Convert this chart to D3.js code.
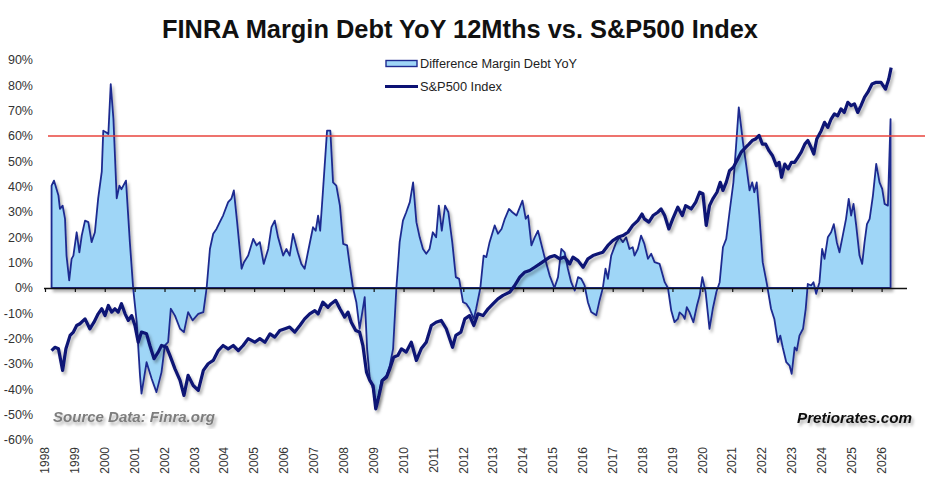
<!DOCTYPE html>
<html lang="en">
<head>
  <meta charset="UTF-8">
  <title>FINRA Margin Debt YoY vs. S&amp;P500</title>
  <script src="https://d3js.org/d3.v7.min.js"></script>
  <style>
    body { margin: 0; background: #fff; font-family: Arial, "Liberation Sans", sans-serif; }
  </style>
</head>
<body>
  <div id="chart"></div>

  <script>
    // Margin debt YoY change (%), decimal year positions
    const debtDates = [
      1998.22, 1998.30, 1998.45, 1998.50, 1998.59, 1998.67, 1998.72, 1998.81, 1998.89, 1998.95,
      1999.06, 1999.15, 1999.23, 1999.34, 1999.45, 1999.56, 1999.67, 1999.78, 1999.90, 1999.95,
      2000.04, 2000.12, 2000.20, 2000.29, 2000.40, 2000.49, 2000.56, 2000.71, 2000.84, 2000.95,
      2001.07, 2001.18, 2001.23, 2001.40, 2001.57, 2001.73, 2001.90, 2002.01, 2002.12, 2002.21,
      2002.35, 2002.52, 2002.65, 2002.79, 2002.94, 2003.13, 2003.30, 2003.41, 2003.52, 2003.63,
      2003.74, 2003.85, 2003.96, 2004.13, 2004.24, 2004.32, 2004.43, 2004.58, 2004.66, 2004.80,
      2004.97, 2005.08, 2005.19, 2005.32, 2005.47, 2005.58, 2005.69, 2005.80, 2005.97, 2006.08,
      2006.19, 2006.30, 2006.46, 2006.58, 2006.69, 2006.80, 2006.97, 2007.06, 2007.14, 2007.21,
      2007.30, 2007.44, 2007.55, 2007.64, 2007.75, 2007.87, 2007.98, 2008.11, 2008.20, 2008.31,
      2008.42, 2008.53, 2008.70, 2008.78, 2008.87, 2008.98, 2009.07, 2009.15, 2009.26, 2009.43,
      2009.54, 2009.65, 2009.76, 2009.87, 2009.98, 2010.09, 2010.21, 2010.32, 2010.43, 2010.54,
      2010.65, 2010.76, 2010.87, 2010.98, 2011.09, 2011.18, 2011.28, 2011.39, 2011.50, 2011.63,
      2011.75, 2011.86, 2011.99, 2012.10, 2012.21, 2012.35, 2012.43, 2012.57, 2012.68, 2012.77,
      2012.88, 2013.05, 2013.16, 2013.28, 2013.39, 2013.53, 2013.64, 2013.78, 2013.87, 2013.98,
      2014.09, 2014.17, 2014.28, 2014.39, 2014.50, 2014.61, 2014.72, 2014.89, 2015.05, 2015.17,
      2015.28, 2015.39, 2015.50, 2015.61, 2015.73, 2015.84, 2015.95, 2016.06, 2016.17, 2016.28,
      2016.45, 2016.56, 2016.67, 2016.76, 2016.84, 2016.95, 2017.12, 2017.23, 2017.34, 2017.45,
      2017.56, 2017.67, 2017.73, 2017.84, 2017.95, 2018.06, 2018.18, 2018.29, 2018.40, 2018.57,
      2018.74, 2018.85, 2018.96, 2019.07, 2019.18, 2019.24, 2019.35, 2019.41, 2019.48, 2019.57,
      2019.70, 2019.82, 2019.91, 2020.00, 2020.11, 2020.24, 2020.35, 2020.47, 2020.58, 2020.69,
      2020.80, 2020.91, 2021.04, 2021.13, 2021.22, 2021.36, 2021.47, 2021.58, 2021.67, 2021.74,
      2021.82, 2021.91, 2022.02, 2022.16, 2022.30, 2022.41, 2022.53, 2022.61, 2022.69, 2022.81,
      2022.92, 2022.99, 2023.09, 2023.16, 2023.25, 2023.37, 2023.46, 2023.53, 2023.64, 2023.72,
      2023.81, 2023.92, 2024.01, 2024.09, 2024.20, 2024.31, 2024.40, 2024.50, 2024.59, 2024.70,
      2024.81, 2024.90, 2024.98, 2025.06, 2025.15, 2025.26, 2025.35, 2025.43, 2025.51, 2025.60,
      2025.71, 2025.82, 2025.93, 2026.02, 2026.10, 2026.21, 2026.30
    ];
    const debtYoY = [
      40.4, 42.4, 36.5, 31.2, 32.5, 27.3, 12.8, 3.0, 11.5, 12.8,
      22.0, 14.1, 20.7, 26.6, 26.0, 18.1, 22.0, 35.4, 45.9, 62.1,
      61.5, 60.8, 80.5, 66.7, 35.4, 40.4, 39.0, 42.4, 18.1, 0,
      -13.5, -34.5, -41.7, -29.3, -35.8, -41.1, -33.2, -22.7, -21.4, -8.2,
      -10.9, -16.1, -17.4, -9.5, -12.8, -10.2, -9.5, 0, 15.4, 21.4,
      23.3, 26.0, 28.6, 33.9, 35.3, 38.5, 26.0, 7.6, 10.2, 12.8,
      19.4, 16.8, 18.1, 9.5, 15.4, 24.0, 26.6, 20.0, 12.8, 15.4,
      12.8, 21.4, 14.1, 9.5, 7.6, 14.1, 24.0, 22.6, 28.6, 22.6,
      37.8, 62.1, 62.1, 41.7, 40.4, 32.5, 17.4, 16.8, 8.9, 0,
      -5.6, -16.1, -3.6, -24.0, -35.8, -39.8, -46.4, -43.7, -36.5, -34.5,
      -30.6, -24.0, 0, 18.1, 26.6, 29.9, 33.9, 41.7, 26.0, 20.0,
      15.4, 13.5, 15.4, 22.0, 20.0, 32.5, 22.6, 32.5, 29.9, 18.1,
      4.3, 3.6, -5.6, -6.2, -8.2, -12.2, -8.2, 0, 12.8, 12.2,
      18.1, 24.7, 21.4, 23.3, 27.3, 31.2, 29.9, 28.6, 31.2, 34.5,
      27.3, 28.6, 16.8, 20.0, 22.6, 17.4, 12.2, 4.9, 0, 4.3,
      15.4, 14.1, 7.6, 2.3, -1.0, 4.3, 3.6, 1.0, -5.6, -9.5,
      -10.8, -4.9, 0, 7.6, 3.6, 12.8, 18.1, 20.0, 18.1, 20.0,
      15.4, 16.1, 12.8, 15.4, 20.7, 17.4, 11.5, 13.5, 10.2, 9.5,
      2.3, 0, -8.9, -13.5, -12.2, -9.6, -10.8, -12.2, -7.6, -9.5,
      -13.5, -6.9, -3.0, 4.3, -1.6, -16.1, -8.2, -1.6, 2.3, 16.1,
      19.4, 29.9, 41.7, 56.2, 71.3, 57.5, 48.3, 38.5, 41.7, 37.8,
      41.7, 28.6, 10.2, 1.6, -8.2, -12.2, -21.4, -18.8, -23.4, -29.3,
      -30.6, -33.9, -23.4, -24.7, -18.8, -16.1, -8.2, 1.6, 1.0, 2.3,
      -2.3, 2.3, 15.4, 11.5, 20.0, 22.0, 25.2, 18.1, 14.1, 20.7,
      27.3, 35.2, 28.6, 33.2, 24.6, 12.8, 9.5, 18.1, 25.2, 27.3,
      36.5, 49.0, 41.7, 39.1, 33.2, 32.5, 66.7
    ];

    // S&P500 index, plotted on a hidden secondary axis (values in left-axis units)
    const spxDates = [
      1998.22, 1998.33, 1998.45, 1998.59, 1998.70, 1998.84, 1998.95, 1999.06, 1999.17, 1999.34,
      1999.50, 1999.64, 1999.78, 1999.90, 2000.01, 2000.12, 2000.23, 2000.34, 2000.45, 2000.56,
      2000.68, 2000.79, 2000.90, 2001.01, 2001.12, 2001.23, 2001.40, 2001.51, 2001.65, 2001.79,
      2001.90, 2002.07, 2002.18, 2002.35, 2002.52, 2002.65, 2002.79, 2002.96, 2003.13, 2003.30,
      2003.46, 2003.63, 2003.80, 2003.96, 2004.13, 2004.30, 2004.47, 2004.63, 2004.80, 2005.02,
      2005.19, 2005.36, 2005.53, 2005.69, 2005.86, 2006.03, 2006.19, 2006.36, 2006.53, 2006.69,
      2006.86, 2007.03, 2007.14, 2007.30, 2007.47, 2007.58, 2007.73, 2007.87, 2008.03, 2008.14,
      2008.25, 2008.40, 2008.53, 2008.64, 2008.76, 2008.87, 2008.98, 2009.07, 2009.18, 2009.29,
      2009.43, 2009.54, 2009.67, 2009.81, 2009.93, 2010.09, 2010.26, 2010.43, 2010.59, 2010.76,
      2010.93, 2011.09, 2011.26, 2011.43, 2011.64, 2011.75, 2011.92, 2012.05, 2012.21, 2012.35,
      2012.49, 2012.66, 2012.83, 2013.00, 2013.16, 2013.33, 2013.56, 2013.72, 2013.89, 2014.05,
      2014.22, 2014.39, 2014.56, 2014.72, 2014.89, 2015.06, 2015.23, 2015.39, 2015.56, 2015.67,
      2015.84, 2016.01, 2016.17, 2016.34, 2016.51, 2016.67, 2016.84, 2017.00, 2017.17, 2017.34,
      2017.51, 2017.67, 2017.84, 2017.98, 2018.06, 2018.21, 2018.35, 2018.51, 2018.62, 2018.74,
      2018.88, 2019.01, 2019.18, 2019.33, 2019.44, 2019.63, 2019.78, 2019.91, 2020.02, 2020.13,
      2020.24, 2020.35, 2020.49, 2020.60, 2020.69, 2020.80, 2020.91, 2021.04, 2021.16, 2021.30,
      2021.45, 2021.56, 2021.67, 2021.78, 2021.90, 2022.01, 2022.12, 2022.23, 2022.35, 2022.48,
      2022.57, 2022.65, 2022.76, 2022.87, 2022.98, 2023.09, 2023.20, 2023.31, 2023.43, 2023.53,
      2023.64, 2023.73, 2023.83, 2023.98, 2024.09, 2024.20, 2024.31, 2024.42, 2024.53, 2024.64,
      2024.75, 2024.87, 2024.98, 2025.09, 2025.20, 2025.31, 2025.43, 2025.54, 2025.68, 2025.82,
      2025.98, 2026.13, 2026.24, 2026.32
    ];
    const spx = [
      -24.7, -23.4, -24.0, -32.5, -24.0, -18.7, -17.4, -14.8, -14.1, -12.2,
      -16.1, -13.5, -10.2, -8.2, -10.9, -6.9, -9.5, -8.2, -9.5, -6.2,
      -10.2, -12.8, -10.9, -14.8, -21.4, -17.4, -18.1, -22.7, -27.9, -25.3,
      -22.7, -23.4, -26.6, -31.9, -36.5, -42.4, -34.5, -38.5, -40.4, -32.5,
      -29.9, -28.6, -24.7, -22.7, -24.0, -22.7, -24.7, -22.7, -20.0, -21.4,
      -20.0, -21.4, -18.1, -19.4, -16.8, -16.1, -15.4, -17.4, -14.8, -12.2,
      -10.2, -8.9, -10.2, -5.6, -7.6, -6.2, -4.9, -8.2, -11.5, -9.5,
      -13.5, -16.8, -17.4, -22.7, -33.2, -36.5, -38.5, -47.7, -42.4, -36.5,
      -35.2, -31.9, -27.3, -26.6, -24.0, -25.3, -21.4, -28.6, -24.0, -21.4,
      -14.8, -13.5, -12.8, -16.1, -23.4, -18.7, -17.4, -12.2, -10.9, -14.8,
      -10.2, -10.9, -8.2, -6.2, -4.3, -2.9, -1.6, 1.0, 4.3, 6.2,
      6.9, 8.2, 9.5, 10.8, 12.2, 12.8, 11.5, 12.2, 9.5, 12.2,
      10.8, 8.2, 11.5, 12.8, 13.5, 14.1, 16.8, 18.7, 20.0, 20.7,
      22.0, 24.7, 26.6, 29.2, 27.3, 26.0, 28.6, 29.9, 31.2, 28.6,
      23.3, 27.3, 31.9, 28.6, 32.5, 31.2, 33.9, 37.8, 37.2, 24.7,
      32.5, 35.2, 37.8, 41.7, 38.5, 41.7, 46.3, 47.7, 50.3, 53.6,
      55.5, 56.8, 58.2, 58.8, 60.2, 56.8, 56.8, 54.2, 52.2, 48.3,
      49.6, 43.7, 48.9, 47.0, 49.6, 49.6, 51.6, 53.6, 56.8, 58.2,
      55.5, 52.9, 58.8, 62.1, 65.4, 63.4, 66.7, 68.7, 68.0, 70.7,
      69.3, 73.3, 72.0, 72.7, 69.3, 72.0, 75.3, 77.3, 80.5, 81.2,
      81.2, 78.5, 82.5, 87.0
    ];

    const yTicks = [90, 80, 70, 60, 50, 40, 30, 20, 10, 0, -10, -20, -30, -40, -50, -60];
    const xYears = d3.range(1998, 2027);
    const threshold = 60;

    const W = 945, H = 498;

    const svg = d3.select("#chart")
      .append("svg")
      .attr("width", W)
      .attr("height", H);

    const defs = svg.append("defs");
    defs.append("filter")
      .attr("id", "shadow")
      .attr("x", "-5%").attr("y", "-5%")
      .attr("width", "115%").attr("height", "125%")
      .append("feDropShadow")
      .attr("dx", 2).attr("dy", 3)
      .attr("stdDeviation", 1.5)
      .attr("flood-color", "#000")
      .attr("flood-opacity", 0.3);

    const x = d3.scaleLinear().domain([1998, 2026.85]).range([45, 907]);
    const y = d3.scaleLinear().domain([-60, 90]).range([440, 60]);
    const y2 = y.copy(); // secondary axis for the index (not displayed)

    const debt = debtDates.map((d, i) => ({ t: d, v: debtYoY[i] }));
    const index = spxDates.map((d, i) => ({ t: d, v: spx[i] }));

    // Title
    svg.append("text")
      .attr("x", 460)
      .attr("y", 38)
      .attr("text-anchor", "middle")
      .attr("textLength", 596)
      .attr("lengthAdjust", "spacingAndGlyphs")
      .style("font-size", "25px")
      .style("font-weight", "bold")
      .attr("fill", "#111")
      .text("FINRA Margin Debt YoY 12Mths vs. S&P500 Index");

    // Y tick labels
    svg.append("g")
      .selectAll("text")
      .data(yTicks)
      .join("text")
      .attr("x", 33)
      .attr("y", d => y(d))
      .attr("dy", "0.35em")
      .attr("text-anchor", "end")
      .style("font-size", "12.5px")
      .attr("fill", "#333")
      .text(d => d + "%");

    // Margin debt area
    const area = d3.area()
      .x(d => x(d.t))
      .y0(y(0))
      .y1(d => y(d.v));

    svg.append("path")
      .datum(debt)
      .attr("fill", "#9fd6f7")
      .attr("stroke", "#1f2b90")
      .attr("stroke-width", 1.8)
      .attr("stroke-linejoin", "round")
      .attr("filter", "url(#shadow)")
      .attr("d", area);

    // X axis at 0%
    const xAxis = d3.axisBottom(x)
      .tickValues(xYears)
      .tickSize(4)
      .tickFormat("");
    const gx = svg.append("g")
      .attr("transform", `translate(0,${y(0)})`)
      .call(xAxis);
    gx.select(".domain").attr("stroke", "#111").attr("stroke-width", 1.5)
      .attr("d", `M${x(1998) - 1},0.5H${x.range()[1]}`);
    gx.selectAll(".tick line").attr("stroke", "#111").attr("stroke-width", 1.2);

    // X labels at the bottom, rotated
    svg.append("g")
      .selectAll("text")
      .data(xYears)
      .join("text")
      .attr("transform", d => `translate(${x(d)},447) rotate(-90)`)
      .attr("dy", "0.35em")
      .attr("text-anchor", "end")
      .style("font-size", "12px")
      .attr("fill", "#333")
      .text(d => d);

    // 60% threshold line
    svg.append("line")
      .attr("x1", 48)
      .attr("x2", 925)
      .attr("y1", y(threshold))
      .attr("y2", y(threshold))
      .attr("stroke", "#e8453c")
      .attr("stroke-width", 1.6);

    // S&P500 line
    const line = d3.line()
      .x(d => x(d.t))
      .y(d => y2(d.v));

    svg.append("path")
      .datum(index)
      .attr("fill", "none")
      .attr("stroke", "#0c1274")
      .attr("stroke-width", 3.2)
      .attr("stroke-linejoin", "round")
      .attr("filter", "url(#shadow)")
      .attr("d", line);

    // Legend
    const lg = svg.append("g");
    lg.append("rect")
      .attr("x", 386).attr("y", 60.5)
      .attr("width", 31).attr("height", 6)
      .attr("fill", "#9fd6f7")
      .attr("stroke", "#1f2b90")
      .attr("stroke-width", 1.4);
    lg.append("text")
      .attr("x", 420).attr("y", 68)
      .attr("textLength", 157)
      .attr("lengthAdjust", "spacingAndGlyphs")
      .style("font-size", "12px")
      .attr("fill", "#222")
      .text("Difference Margin Debt YoY");
    lg.append("line")
      .attr("x1", 385).attr("x2", 418)
      .attr("y1", 86.5).attr("y2", 86.5)
      .attr("stroke", "#0c1274")
      .attr("stroke-width", 3);
    lg.append("text")
      .attr("x", 420).attr("y", 91)
      .attr("textLength", 82)
      .attr("lengthAdjust", "spacingAndGlyphs")
      .style("font-size", "12px")
      .attr("fill", "#222")
      .text("S&P500 Index");

    // Source notes
    svg.append("text")
      .attr("x", 53).attr("y", 422)
      .attr("textLength", 162)
      .attr("lengthAdjust", "spacingAndGlyphs")
      .style("font-size", "15px")
      .style("font-weight", "bold")
      .style("font-style", "italic")
      .attr("fill", "#7d7d7d")
      .attr("filter", "url(#shadow)")
      .text("Source Data: Finra.org");

    svg.append("text")
      .attr("x", 797).attr("y", 423)
      .attr("textLength", 115)
      .attr("lengthAdjust", "spacingAndGlyphs")
      .style("font-size", "15px")
      .style("font-weight", "bold")
      .style("font-style", "italic")
      .attr("fill", "#111")
      .attr("filter", "url(#shadow)")
      .text("Pretiorates.com");
  </script>
</body>
</html>
